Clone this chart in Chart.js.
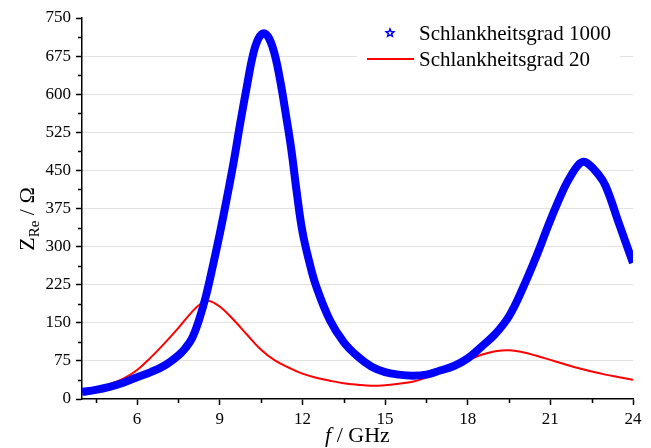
<!DOCTYPE html>
<html>
<head>
<meta charset="utf-8">
<script src="https://cdn.jsdelivr.net/npm/chart.js@4/dist/chart.umd.min.js"></script>
<style>
  body { margin: 0; background: #fff; }
  canvas { display: block; }
</style>
</head>
<body>
<canvas id="chart" width="651" height="448"></canvas>
<script>
// Schlankheitsgrad 1000 (blue stars)
const freqBlue = [4, 4.5, 5, 5.5, 6, 6.5, 7, 7.5, 7.75, 8, 8.25, 8.5, 8.75, 9, 9.25, 9.5, 9.75, 10, 10.2, 10.4, 10.6, 10.8, 11, 11.2, 11.4, 11.6, 11.8, 12, 12.25, 12.5, 13, 13.5, 14, 14.5, 15, 15.5, 16, 16.5, 17, 17.5, 18, 18.5, 19, 19.5, 20, 20.5, 21, 21.5, 21.75, 22, 22.2, 22.4, 22.7, 23, 23.5, 24];
const zBlue = [14, 18, 24, 32, 43, 53, 66, 86, 100, 120, 156, 203, 262, 325, 393, 465, 545, 620, 676, 709, 720, 709, 677, 625, 560, 490, 405, 330, 270, 222, 155, 112, 84, 64, 53, 48, 46, 48, 56, 65, 80, 103, 128, 163, 218, 282, 352, 415, 440, 460, 467, 462, 445, 420, 344, 268];

// Schlankheitsgrad 20 (red line)
const freqRed = [4, 4.5, 5, 5.5, 6, 6.5, 7, 7.5, 8, 8.3, 8.6, 9, 9.5, 10, 10.5, 11, 11.5, 12, 12.5, 13, 13.5, 14, 14.5, 15, 15.5, 16, 16.5, 17, 17.5, 18, 18.5, 19, 19.5, 20, 20.5, 21, 21.5, 22, 22.5, 23, 23.5, 24];
const zRed = [15, 20, 29, 40, 57, 82, 110, 140, 172, 187, 193, 182, 156, 126, 97, 76, 62, 50, 42, 36, 31, 28, 26, 27, 30, 34, 42, 52, 63, 76, 87, 94, 96, 92, 85, 77, 69, 61, 54, 48, 43, 38];

const xTicks = [6, 9, 12, 15, 18, 21, 24];
const xMinor = [4.5, 7.5, 10.5, 13.5, 16.5, 19.5, 22.5];
const yTicks = [0, 75, 150, 225, 300, 375, 450, 525, 600, 675, 750];
const yMinor = [37.5, 112.5, 187.5, 262.5, 337.5, 412.5, 487.5, 562.5, 637.5, 712.5];

const seriesNames = ["Schlankheitsgrad 1000", "Schlankheitsgrad 20"];

const serif = "'Liberation Serif', 'Times New Roman', serif";

const toPoints = (xs, ys) => xs.map((x, i) => ({ x: x, y: ys[i] }));

function drawStar(ctx, cx, cy, r) {
    ctx.beginPath();
    for (let i = 0; i < 10; i++) {
        const rr = i % 2 === 0 ? r : r * 0.45;
        const a = -Math.PI / 2 + i * Math.PI / 5;
        const px = cx + rr * Math.cos(a);
        const py = cy + rr * Math.sin(a);
        if (i === 0) ctx.moveTo(px, py); else ctx.lineTo(px, py);
    }
    ctx.closePath();
    ctx.stroke();
}

const extras = {
    id: "extras",
    beforeDatasetsDraw(chart) {
        // white legend box over the gridlines
        const ctx = chart.ctx;
        ctx.save();
        ctx.fillStyle = "#fff";
        ctx.fillRect(357, 20, 263, 52);
        ctx.restore();
    },
    afterDraw(chart) {
        const ctx = chart.ctx;
        const xs = chart.scales.x;
        const ys = chart.scales.y;
        const area = chart.chartArea;

        // minor ticks
        ctx.save();
        ctx.strokeStyle = "#000";
        ctx.lineWidth = 1.5;
        ctx.beginPath();
        xMinor.forEach(v => {
            const px = Math.round(xs.getPixelForValue(v)) + 0.5;
            ctx.moveTo(px, area.bottom);
            ctx.lineTo(px, area.bottom + 4);
        });
        yMinor.forEach(v => {
            const py = Math.round(ys.getPixelForValue(v)) + 0.5;
            ctx.moveTo(area.left - 4, py);
            ctx.lineTo(area.left, py);
        });
        ctx.stroke();
        ctx.restore();

        // legend
        ctx.save();
        ctx.font = "21px " + serif;
        ctx.fillStyle = "#000";
        ctx.textBaseline = "middle";
        ctx.textAlign = "left";
        ctx.fillText(seriesNames[0], 419, 34);
        ctx.fillText(seriesNames[1], 419, 60);
        ctx.strokeStyle = "#0000ff";
        ctx.lineWidth = 1.5;
        drawStar(ctx, 390, 33, 4);
        ctx.strokeStyle = "#ff0000";
        ctx.lineWidth = 2;
        ctx.beginPath();
        ctx.moveTo(367, 59);
        ctx.lineTo(414, 59);
        ctx.stroke();
        ctx.restore();

        // x axis title: f / GHz
        ctx.save();
        ctx.fillStyle = "#000";
        ctx.textBaseline = "alphabetic";
        ctx.textAlign = "left";
        const italic = "italic 22px " + serif;
        const normal = "22px " + serif;
        ctx.font = italic;
        const wF = ctx.measureText("f").width;
        ctx.font = normal;
        const wRest = ctx.measureText(" / GHz").width;
        let x0 = (area.left + area.right) / 2 - (wF + wRest) / 2;
        ctx.font = italic;
        ctx.fillText("f", x0, 442);
        ctx.font = normal;
        ctx.fillText(" / GHz", x0 + wF, 442);
        ctx.restore();

        // y axis title: Z_Re / Ω
        ctx.save();
        ctx.fillStyle = "#000";
        ctx.translate(34, 219);
        ctx.rotate(-Math.PI / 2);
        ctx.textBaseline = "alphabetic";
        ctx.textAlign = "left";
        const sub = "15px " + serif;
        ctx.font = normal;
        const wZ = ctx.measureText("Z").width;
        const wOhm = ctx.measureText(" / \u03A9").width;
        ctx.font = sub;
        const wRe = ctx.measureText("Re").width;
        let t0 = -(wZ + wRe + wOhm) / 2;
        ctx.font = normal;
        ctx.fillText("Z", t0, 0);
        ctx.font = sub;
        ctx.fillText("Re", t0 + wZ, 5);
        ctx.font = normal;
        ctx.fillText(" / \u03A9", t0 + wZ + wRe, 0);
        ctx.restore();
    }
};

new Chart(document.getElementById("chart").getContext("2d"), {
    type: "line",
    data: {
        datasets: [
            {
                label: seriesNames[0],
                data: toPoints(freqBlue, zBlue),
                borderColor: "#0000ff",
                backgroundColor: "#0000ff",
                borderWidth: 8,
                pointRadius: 0,
                tension: 0.4,
                fill: false
            },
            {
                label: seriesNames[1],
                data: toPoints(freqRed, zRed),
                borderColor: "#ff0000",
                backgroundColor: "#ff0000",
                borderWidth: 2,
                pointRadius: 0,
                tension: 0.4,
                fill: false
            }
        ]
    },
    options: {
        responsive: false,
        animation: false,
        devicePixelRatio: 1,
        layout: { padding: { top: 18, right: 18, left: 0, bottom: 0 } },
        plugins: {
            legend: { display: false },
            tooltip: { enabled: false }
        },
        scales: {
            x: {
                type: "linear",
                min: 4,
                max: 24,
                afterBuildTicks: s => { s.ticks = xTicks.map(v => ({ value: v })); },
                afterFit: s => { s.height = 49; },
                grid: {
                    drawOnChartArea: false,
                    tickLength: 6,
                    tickColor: "#000",
                    tickWidth: 1.5
                },
                border: { color: "#000", width: 1.5 },
                ticks: {
                    color: "#000",
                    font: { family: serif, size: 17 },
                    padding: 4,
                    maxRotation: 0
                }
            },
            y: {
                min: 0,
                max: 750,
                afterBuildTicks: s => { s.ticks = yTicks.map(v => ({ value: v })); },
                afterFit: s => { s.width = 82; },
                grid: {
                    color: c => (c.tick && (c.tick.value === 0 || c.tick.value === 750)) ? "rgba(0,0,0,0)" : "#c4c4c4",
                    lineWidth: 1,
                    tickLength: 6,
                    tickColor: "#000",
                    tickWidth: 1.5
                },
                border: { color: "#000", width: 1.5, dash: [1, 1] },
                ticks: {
                    color: "#000",
                    font: { family: serif, size: 17 },
                    padding: 5
                }
            }
        }
    },
    plugins: [extras]
});
</script>
</body>
</html>
